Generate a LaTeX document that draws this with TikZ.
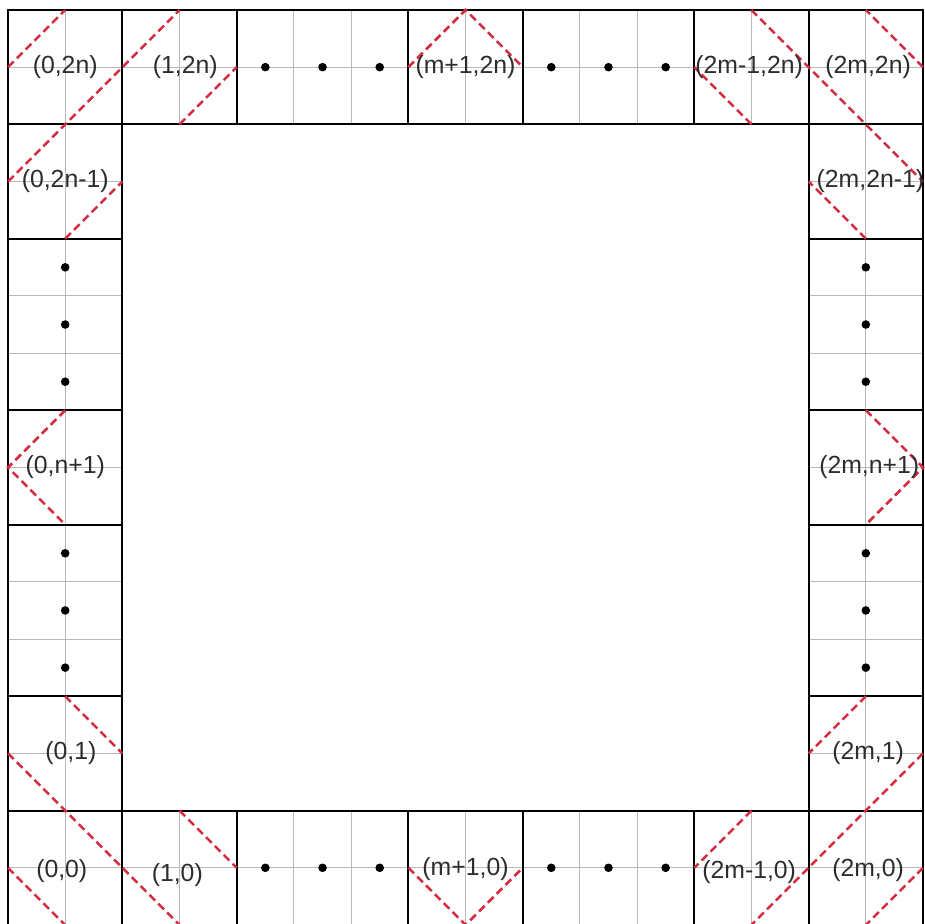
\documentclass[tikz,border=0pt]{standalone}
\usepackage{fontspec}
\setmainfont{Liberation Sans}
\begin{document}
\begin{tikzpicture}[x=114.375pt,y=114.375pt,
  thin grid/.style={draw={rgb,255:red,185;green,185;blue,185},line width=1.1pt},
  cellline/.style={draw=black,line width=2pt},
  path red/.style={draw={rgb,255:red,212;green,45;blue,65},line width=2.5pt,dash pattern=on 8pt off 4.5pt},
  lab/.style={text={rgb,255:red,45;green,45;blue,45},font=\fontsize{24.8}{29}\selectfont,inner sep=0pt},
  dotm/.style={fill=black}]
\useasboundingbox (-0.0700,0.0087) rectangle (8.0175,8.0874);
\fill[white] (-0.0700,0.0087) rectangle (8.0175,8.0874);
% gray grid lines
\path[thin grid] (0,7.5) -- (8,7.5) (0,0.5) -- (8,0.5) (0.5,0) -- (0.5,8) (7.5,0) -- (7.5,8);
\foreach \v in {1.5,2.5,3,4,5,5.5,6.5}{
  \path[thin grid] (\v,7) -- (\v,8) (\v,0) -- (\v,1) (0,\v) -- (1,\v) (7,\v) -- (8,\v);
}
% black cell lines
\path[cellline] (0,0) rectangle (8,8) (1,1) rectangle (7,7);
\foreach \v in {1,2,3.5,4.5,6,7}{
  \path[cellline] (\v,7) -- (\v,8) (\v,0) -- (\v,1) (0,\v) -- (1,\v) (7,\v) -- (8,\v);
}
% red dashed paths
\path[path red] (0,6.5) -- (1.5,8);
\path[path red] (0,7.5) -- (0.5,8);
\path[path red] (1.5,7) -- (2,7.5);
\path[path red] (0.5,6) -- (1,6.5);
\path[path red] (3.5,7.5) -- (4,8) -- (4.5,7.5);
\path[path red] (6.5,8) -- (8,6.5);
\path[path red] (8,7.5) -- (7.5,8);
\path[path red] (6.5,7) -- (6,7.5);
\path[path red] (7.5,6) -- (7,6.5);
\path[path red] (7.5,4.5) -- (8,4) -- (7.5,3.5);
\path[path red] (0.5,4.5) -- (0,4) -- (0.5,3.5);
\path[path red] (0,1.5) -- (1.5,0);
\path[path red] (0,0.5) -- (0.5,0);
\path[path red] (1.5,1) -- (2,0.5);
\path[path red] (0.5,2) -- (1,1.5);
\path[path red] (3.5,0.5) -- (4,0) -- (4.5,0.5);
\path[path red] (8,1.5) -- (6.5,0);
\path[path red] (8,0.5) -- (7.5,0);
\path[path red] (6.5,1) -- (6,0.5);
\path[path red] (7.5,2) -- (7,1.5);
% dots
\foreach \v in {2.25,2.75,3.25,4.75,5.25,5.75}{
  \fill[dotm] (\v,7.5) circle (4.3pt);
  \fill[dotm] (\v,0.5) circle (4.3pt);
  \fill[dotm] (0.5,\v) circle (4.3pt);
  \fill[dotm] (7.5,\v) circle (4.3pt);
}
% labels
\node[lab] (t0) at (0.5,7.5) {(0,2n)};
\node[lab] (t1) at (1.55,7.5) {(1,2n)};
\node[lab] (tm) at (4,7.5) {(m+1,2n)};
\node[lab] (t2m1) at (6.48,7.5) {(2m-1,2n)};
\node[lab] (t2m) at (7.52,7.5) {(2m,2n)};
\node[lab] (l2n1) at (0.5,6.5) {(0,2n-1)};
\node[lab] (r2n1) at (7.54,6.5) {(2m,2n-1)};
\node[lab] (ln1) at (0.5,4) {(0,n+1)};
\node[lab] (rn1) at (7.53,4) {(2m,n+1)};
\node[lab] (l1) at (0.55,1.5) {(0,1)};
\node[lab] (r1) at (7.52,1.5) {(2m,1)};
\node[lab] (b0) at (0.47,0.47) {(0,0)};
\node[lab] (b1) at (1.48,0.44) {(1,0)};
\node[lab] (bm) at (4,0.49) {(m+1,0)};
\node[lab] (b2m1) at (6.48,0.46) {(2m-1,0)};
\node[lab] (b2m) at (7.52,0.48) {(2m,0)};
\end{tikzpicture}
\end{document}
